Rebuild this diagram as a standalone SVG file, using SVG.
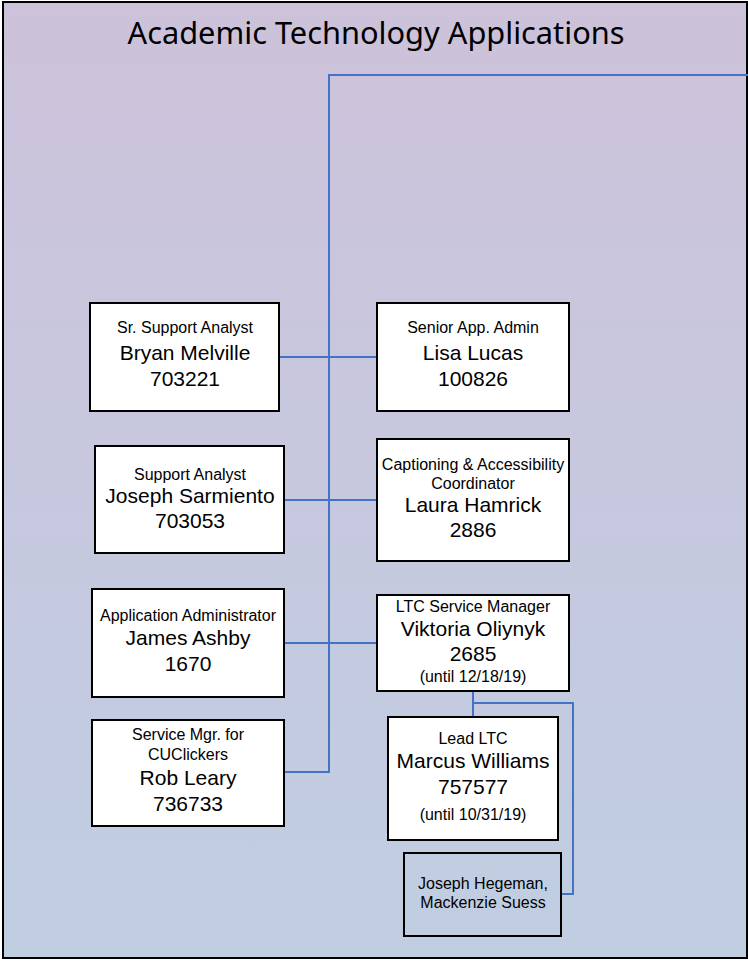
<svg xmlns="http://www.w3.org/2000/svg" width="748" height="964" viewBox="0 0 748 964">
<defs>
<linearGradient id="bg" x1="0" y1="0" x2="0" y2="1">
<stop offset="0" stop-color="#CCC2DA"/>
<stop offset="1" stop-color="#C0CEE2"/>
</linearGradient>
<style>
.box{fill:#fff;stroke:#000;stroke-width:2}
.box2{fill:none;stroke:#000;stroke-width:2}
.conn{fill:none;stroke:#4472C4;stroke-width:2}
text{font-family:"Liberation Sans",Arial,sans-serif;text-anchor:middle;fill:#000}
.s{font-size:16px}
.l{font-size:21px}
.title{font-family:"Noto Sans","Open Sans",sans-serif;font-size:30px}
</style>
</defs>
<rect x="3" y="2" width="744" height="956" fill="url(#bg)" stroke="#000" stroke-width="2"/>
<text class="title" x="376" y="44" textLength="497" lengthAdjust="spacingAndGlyphs">Academic Technology Applications</text>
<g id="connectors">
<polyline class="conn" points="748,75 329,75 329,772 284,772"/>
<line class="conn" x1="279" y1="357" x2="377" y2="357"/>
<line class="conn" x1="284" y1="500" x2="377" y2="500"/>
<line class="conn" x1="284" y1="643" x2="377" y2="643"/>
<polyline class="conn" points="473,691 473,717"/>
<polyline class="conn" points="473,703 573,703 573,894 561,894"/>
</g>
<g id="bryan">
<rect class="box" x="90" y="303" width="189" height="108"/>
<text class="s" x="185" y="333">Sr. Support Analyst</text>
<text class="l" x="185" y="360">Bryan Melville</text>
<text class="l" x="185" y="386">703221</text>
</g>
<g id="lisa">
<rect class="box" x="377" y="303" width="192" height="108"/>
<text class="s" x="473" y="333">Senior App. Admin</text>
<text class="l" x="473" y="360">Lisa Lucas</text>
<text class="l" x="473" y="386">100826</text>
</g>
<g id="joseph">
<rect class="box" x="95" y="446" width="189" height="107"/>
<text class="s" x="190" y="480">Support Analyst</text>
<text class="l" x="190" y="503">Joseph Sarmiento</text>
<text class="l" x="190" y="528">703053</text>
</g>
<g id="laura">
<rect class="box" x="377" y="439" width="192" height="122"/>
<text class="s" x="473" y="470">Captioning &amp; Accessibility</text>
<text class="s" x="473" y="489">Coordinator</text>
<text class="l" x="473" y="512">Laura Hamrick</text>
<text class="l" x="473" y="537">2886</text>
</g>
<g id="james">
<rect class="box" x="92" y="589" width="192" height="108"/>
<text class="s" x="188" y="621">Application Administrator</text>
<text class="l" x="188" y="645">James Ashby</text>
<text class="l" x="188" y="671">1670</text>
</g>
<g id="viktoria">
<rect class="box" x="377" y="595" width="192" height="96"/>
<text class="s" x="473" y="612">LTC Service Manager</text>
<text class="l" x="473" y="636">Viktoria Oliynyk</text>
<text class="l" x="473" y="661">2685</text>
<text class="s" x="473" y="682">(until 12/18/19)</text>
</g>
<g id="rob">
<rect class="box" x="92" y="720" width="192" height="106"/>
<text class="s" x="188" y="740">Service Mgr. for</text>
<text class="s" x="188" y="760">CUClickers</text>
<text class="l" x="188" y="785">Rob Leary</text>
<text class="l" x="188" y="811">736733</text>
</g>
<g id="marcus">
<rect class="box" x="388" y="717" width="170" height="123"/>
<text class="s" x="473" y="744">Lead LTC</text>
<text class="l" x="473" y="768">Marcus Williams</text>
<text class="l" x="473" y="794">757577</text>
<text class="s" x="473" y="820">(until 10/31/19)</text>
</g>
<g id="hegeman">
<rect class="box2" x="404" y="853" width="157" height="83"/>
<text class="s" x="483" y="889">Joseph Hegeman,</text>
<text class="s" x="483" y="908">Mackenzie Suess</text>
</g>
</svg>
